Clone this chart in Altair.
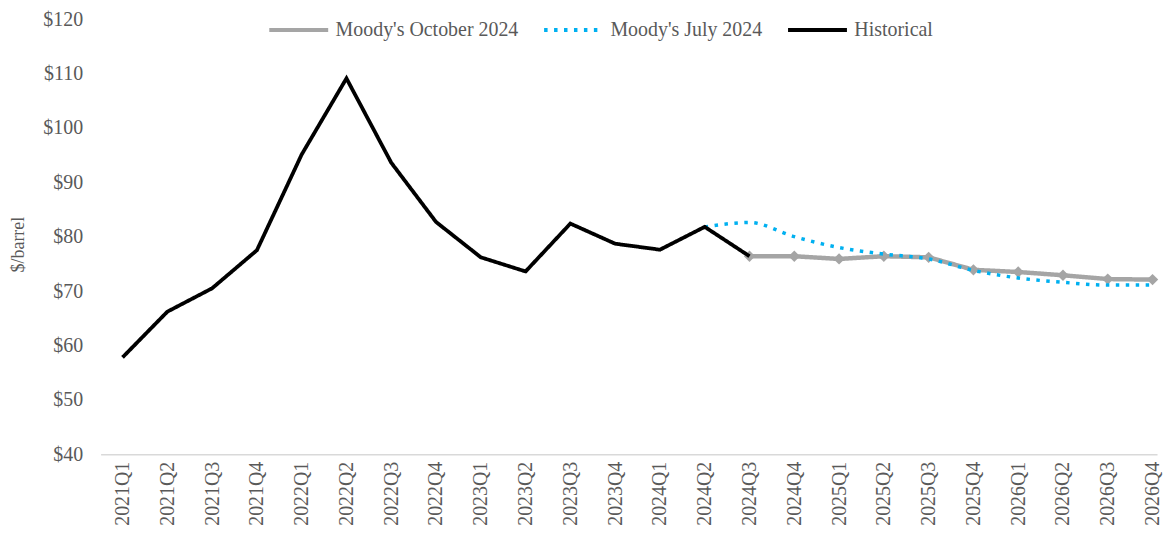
import altair as alt
import pandas as pd

quarters = [f"{y}Q{q}" for y in (2021, 2022, 2023, 2024, 2025, 2026) for q in (1, 2, 3, 4)]

historical = [57.8, 66.2, 70.5, 77.5, 95.1, 109.1, 93.6, 82.7, 76.2, 73.6,
              82.4, 78.7, 77.6, 81.8, 76.4]          # 2021Q1 .. 2024Q3
october = [76.4, 76.4, 75.9, 76.4, 76.2, 73.9, 73.5, 72.9, 72.2, 72.1]   # 2024Q3 .. 2026Q4
july = [81.8, 82.6, 80.0, 78.0, 76.8, 75.9, 73.8, 72.4, 71.6, 71.1, 71.1]  # 2024Q2 .. 2026Q4

S_OCT = "Moody's October 2024"
S_JUL = "Moody's July 2024"
S_HIS = "Historical"

rows = []
for i, v in enumerate(historical):
    rows.append({"idx": i, "quarter": quarters[i], "value": v, "series": S_HIS})
off = len(quarters) - len(october)
for i, v in enumerate(october):
    rows.append({"idx": off + i, "quarter": quarters[off + i], "value": v, "series": S_OCT})
off = len(quarters) - len(july)
for i, v in enumerate(july):
    rows.append({"idx": off + i, "quarter": quarters[off + i], "value": v, "series": S_JUL})
df = pd.DataFrame(rows)

FONT = "Liberation Serif"
GREY = "#595959"

label_array = "[" + ",".join(f"'{q}'" for q in quarters) + "]"

x = alt.X("idx:Q",
          scale=alt.Scale(domain=[-0.49, len(quarters) - 1 + 0.1], nice=False, zero=False),
          axis=alt.Axis(title=None, values=list(range(len(quarters))),
                        labelExpr=f"{label_array}[datum.value]",
                        labelAngle=-90, labelFont=FONT, labelFontSize=20,
                        labelColor=GREY, labelPadding=7, ticks=False,
                        domainColor="#D9D9D9", domainWidth=1.5, grid=False,
                        labelOverlap=False, labelFlush=False))
y = alt.Y("value:Q",
          scale=alt.Scale(domain=[40, 120], nice=False, zero=False),
          axis=alt.Axis(title="$/barrel", values=list(range(40, 121, 10)),
                        labelExpr="'$' + datum.value", labelFont=FONT, labelFontSize=20,
                        labelColor=GREY, labelPadding=18, ticks=False, domain=False,
                        grid=False, titleFont=FONT, titleFontSize=18, titleColor=GREY,
                        titleFontWeight="normal", titleX=-73, titleY=226,
                        titleBaseline="bottom"))
color = alt.Color("series:N",
                  scale=alt.Scale(domain=[S_OCT, S_JUL, S_HIS],
                                  range=["#A5A5A5", "#00B0F0", "#000000"]),
                  legend=alt.Legend(title=None, orient="none", legendX=167, legendY=-21,
                                    direction="horizontal", symbolType="stroke",
                                    symbolSize=3500, symbolStrokeWidth=4,
                                    labelFont=FONT, labelFontSize=20, labelColor=GREY,
                                    labelOffset=5, columnPadding=17, labelLimit=400))
dash = alt.StrokeDash("series:N",
                      scale=alt.Scale(domain=[S_OCT, S_JUL, S_HIS],
                                      range=[[1, 0], [3.5, 6.5], [1, 0]]),
                      legend=None)

base = alt.Chart(df).encode(x=x, y=y, color=color, strokeDash=dash)

oct_layer = base.transform_filter(alt.datum.series == S_OCT).mark_line(
    strokeWidth=4.5,
    point=alt.OverlayMarkDef(shape="diamond", size=130, filled=True, color="#A5A5A5"))
jul_layer = base.transform_filter(alt.datum.series == S_JUL).mark_line(
    strokeWidth=3.5, interpolate="monotone")
his_layer = base.transform_filter(alt.datum.series == S_HIS).mark_line(
    strokeWidth=3.8, strokeJoin="miter")

chart = alt.layer(oct_layer, jul_layer, his_layer).properties(
    width=1061, height=437,
    autosize=alt.AutoSizeParams(type="none"),
    padding={"left": 93, "top": 10, "right": 6, "bottom": 77},
).configure_view(stroke=None)

chart.save("out.html", embed_options={"renderer": "svg", "actions": False})
